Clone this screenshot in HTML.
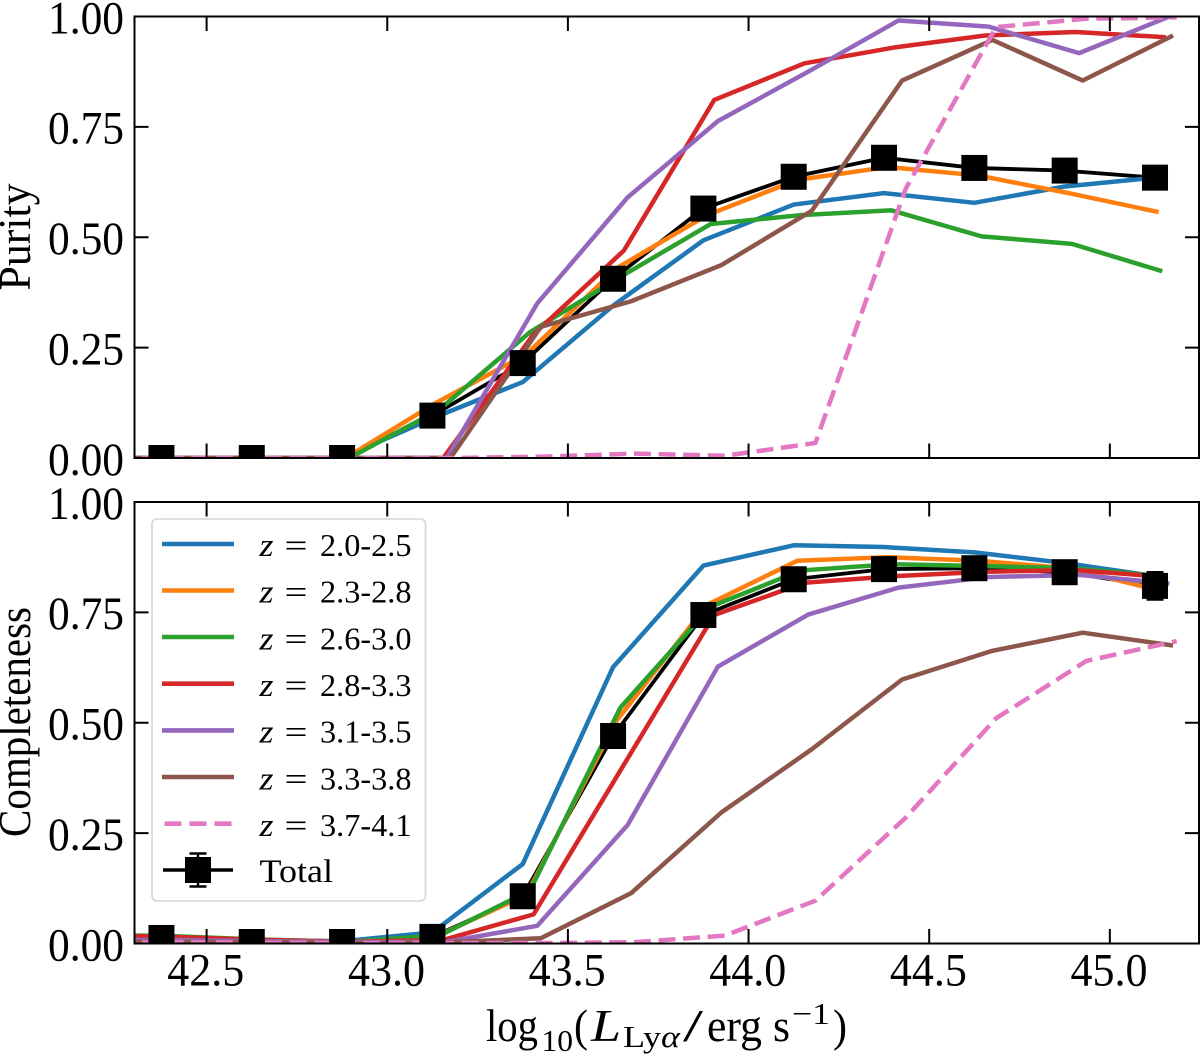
<!DOCTYPE html>
<html lang="en">
<head>
<meta charset="utf-8">
<title>Purity and completeness vs Lya luminosity</title>
<style>
  html, body { margin: 0; padding: 0; background: #fff; }
  svg { display: block; }
  text { font-family: "Liberation Serif", serif; fill: #000; }
</style>
</head>
<body>
<svg id="chart" xmlns="http://www.w3.org/2000/svg" width="1200" height="1056" viewBox="0 0 1200 1056">
  <defs>
    <clipPath id="clip-top"><rect x="134.5" y="16.5" width="1064.5" height="441.5"></rect></clipPath>
    <clipPath id="clip-bottom"><rect x="134.5" y="502" width="1064.5" height="441.5"></rect></clipPath>
  </defs>
  <rect x="0" y="0" width="1200" height="1056" fill="#fff"></rect>
  <g id="panel-top"></g>
  <g id="panel-bottom"></g>

  <text transform="translate(30 237) rotate(-90)" text-anchor="middle" font-size="46" textLength="107" lengthAdjust="spacingAndGlyphs">Purity</text>
  <text transform="translate(30 722) rotate(-90)" text-anchor="middle" font-size="46" textLength="230" lengthAdjust="spacingAndGlyphs">Completeness</text>

  <g font-size="46">
    <text x="486" y="1041" textLength="52" lengthAdjust="spacingAndGlyphs">log</text>
    <text x="541.5" y="1051" font-size="31" textLength="31.5" lengthAdjust="spacingAndGlyphs">10</text>
    <text x="574" y="1041" textLength="14" lengthAdjust="spacingAndGlyphs">(</text>
    <text x="591" y="1041" font-style="italic" textLength="30" lengthAdjust="spacingAndGlyphs">L</text>
    <text x="623" y="1047" font-size="31" textLength="57" lengthAdjust="spacingAndGlyphs">Ly<tspan font-style="italic">α</tspan></text>
    <text x="683" y="1041" textLength="20" lengthAdjust="spacingAndGlyphs">/</text>
    <text x="707" y="1041" textLength="55" lengthAdjust="spacingAndGlyphs">erg</text>
    <text x="773" y="1041" textLength="17" lengthAdjust="spacingAndGlyphs">s</text>
    <text x="792" y="1024" font-size="31" textLength="38" lengthAdjust="spacingAndGlyphs">−1</text>
    <text x="833" y="1041" textLength="14" lengthAdjust="spacingAndGlyphs">)</text>
  </g>

  <g id="legend">
    <rect x="152" y="519" width="273.5" height="382" rx="5" ry="5" fill="#fff" fill-opacity="0.8" stroke="#d6d6d6" stroke-width="1.6"></rect>

    <g>
      <line x1="162" x2="234" y1="544" y2="544" stroke="#1f77b4" stroke-width="4.6"></line>
      <text x="259.5" y="556" font-size="33" font-style="italic" textLength="14" lengthAdjust="spacingAndGlyphs">z</text><text x="284.5" y="556" font-size="32" textLength="23" lengthAdjust="spacingAndGlyphs">=</text><text x="320" y="556" font-size="32" textLength="91.5" lengthAdjust="spacingAndGlyphs">2.0-2.5</text>
    </g>
    <g>
      <line x1="162" x2="234" y1="590.5" y2="590.5" stroke="#ff7f0e" stroke-width="4.6"></line>
      <text x="259.5" y="602.7" font-size="33" font-style="italic" textLength="14" lengthAdjust="spacingAndGlyphs">z</text><text x="284.5" y="602.7" font-size="32" textLength="23" lengthAdjust="spacingAndGlyphs">=</text><text x="320" y="602.7" font-size="32" textLength="91.5" lengthAdjust="spacingAndGlyphs">2.3-2.8</text>
    </g>
    <g>
      <line x1="162" x2="234" y1="637" y2="637" stroke="#2ca02c" stroke-width="4.6"></line>
      <text x="259.5" y="649.4" font-size="33" font-style="italic" textLength="14" lengthAdjust="spacingAndGlyphs">z</text><text x="284.5" y="649.4" font-size="32" textLength="23" lengthAdjust="spacingAndGlyphs">=</text><text x="320" y="649.4" font-size="32" textLength="91.5" lengthAdjust="spacingAndGlyphs">2.6-3.0</text>
    </g>
    <g>
      <line x1="162" x2="234" y1="683.7" y2="683.7" stroke="#d62728" stroke-width="4.6"></line>
      <text x="259.5" y="696" font-size="33" font-style="italic" textLength="14" lengthAdjust="spacingAndGlyphs">z</text><text x="284.5" y="696" font-size="32" textLength="23" lengthAdjust="spacingAndGlyphs">=</text><text x="320" y="696" font-size="32" textLength="91.5" lengthAdjust="spacingAndGlyphs">2.8-3.3</text>
    </g>
    <g>
      <line x1="162" x2="234" y1="730.4" y2="730.4" stroke="#9467bd" stroke-width="4.6"></line>
      <text x="259.5" y="742.6" font-size="33" font-style="italic" textLength="14" lengthAdjust="spacingAndGlyphs">z</text><text x="284.5" y="742.6" font-size="32" textLength="23" lengthAdjust="spacingAndGlyphs">=</text><text x="320" y="742.6" font-size="32" textLength="91.5" lengthAdjust="spacingAndGlyphs">3.1-3.5</text>
    </g>
    <g>
      <line x1="162" x2="234" y1="777" y2="777" stroke="#8c564b" stroke-width="4.6"></line>
      <text x="259.5" y="789.3" font-size="33" font-style="italic" textLength="14" lengthAdjust="spacingAndGlyphs">z</text><text x="284.5" y="789.3" font-size="32" textLength="23" lengthAdjust="spacingAndGlyphs">=</text><text x="320" y="789.3" font-size="32" textLength="91.5" lengthAdjust="spacingAndGlyphs">3.3-3.8</text>
    </g>
    <g>
      <line x1="164.5" x2="234" y1="823.7" y2="823.7" stroke="#e377c2" stroke-width="4.6" stroke-dasharray="17 8"></line>
      <text x="259.5" y="836" font-size="33" font-style="italic" textLength="14" lengthAdjust="spacingAndGlyphs">z</text><text x="284.5" y="836" font-size="32" textLength="23" lengthAdjust="spacingAndGlyphs">=</text><text x="320" y="836" font-size="32" textLength="91.5" lengthAdjust="spacingAndGlyphs">3.7-4.1</text>
    </g>
    <g>
      <line x1="163" x2="233" y1="870" y2="870" stroke="#000" stroke-width="3.6"></line>
      <line x1="198" x2="198" y1="853.5" y2="886.5" stroke="#000" stroke-width="2.4"></line>
      <line x1="189.5" x2="206.5" y1="853.5" y2="853.5" stroke="#000" stroke-width="2.4"></line>
      <line x1="189.5" x2="206.5" y1="886.5" y2="886.5" stroke="#000" stroke-width="2.4"></line>
      <rect x="185" y="857" width="26" height="26" fill="#000"></rect>
      <text x="259.5" y="882" font-size="33" textLength="73.5" lengthAdjust="spacingAndGlyphs">Total</text>
    </g>
  </g>
</svg>

<script>
// ---- Data ----
const binCenters = [42.125, 42.375, 42.625, 42.875, 43.125, 43.375, 43.625, 43.875, 44.125, 44.375, 44.625, 44.875, 45.125];
const seriesLabels = ["2.0-2.5", "2.3-2.8", "2.6-3.0", "2.8-3.3", "3.1-3.5", "3.3-3.8", "3.7-4.1"];
const seriesColors = ["#1f77b4", "#ff7f0e", "#2ca02c", "#d62728", "#9467bd", "#8c564b", "#e377c2"];

const purityBlue   = [0, 0, 0, 0, 0.090, 0.172, 0.345, 0.493, 0.574, 0.600, 0.578, 0.615, 0.635];
const purityOrange = [0, 0, 0, 0, 0.125, 0.235, 0.430, 0.550, 0.630, 0.659, 0.640, 0.600, 0.557];
const purityGreen  = [0, 0, 0, 0, 0.110, 0.285, 0.410, 0.530, 0.550, 0.561, 0.502, 0.485, 0.423];
const purityRed    = [0, 0, 0, 0, 0, 0.280, 0.470, 0.811, 0.894, 0.930, 0.957, 0.965, 0.953];
const purityPurple = [0, 0, 0, 0, 0, 0.350, 0.590, 0.763, 0.875, 0.991, 0.977, 0.917, 1.000];
const purityBrown  = [0, 0, 0, 0, 0, 0.297, 0.355, 0.437, 0.560, 0.855, 0.947, 0.855, 0.957];
const purityPink   = [0, 0, 0, 0, 0, 0.003, 0.010, 0.005, 0.034, 0.610, 0.976, 0.995, 0.998];
const purityTotal  = [0, 0, 0, 0, 0.096, 0.215, 0.406, 0.565, 0.637, 0.680, 0.657, 0.651, 0.635];
const purityTotalErr = [0, 0, 0, 0, 0.01, 0.01, 0.01, 0.01, 0.01, 0.01, 0.015, 0.02, 0.02];

const completenessBlue   = [0.015, 0.013, 0.008, 0.005, 0.025, 0.180, 0.626, 0.856, 0.902, 0.898, 0.886, 0.862, 0.832];
const completenessOrange = [0.015, 0.014, 0.008, 0.004, 0.016, 0.110, 0.505, 0.767, 0.867, 0.875, 0.867, 0.850, 0.800];
const completenessGreen  = [0.020, 0.017, 0.009, 0.004, 0.018, 0.120, 0.534, 0.763, 0.845, 0.859, 0.855, 0.850, 0.832];
const completenessRed    = [0.020, 0.015, 0.008, 0.004, 0.008, 0.066, 0.405, 0.744, 0.817, 0.832, 0.842, 0.846, 0.830];
const completenessPurple = [0.008, 0.008, 0.005, 0.003, 0.004, 0.040, 0.268, 0.627, 0.745, 0.806, 0.830, 0.835, 0.815];
const completenessBrown  = [0.004, 0.004, 0.003, 0.001, 0.003, 0.012, 0.114, 0.297, 0.440, 0.598, 0.663, 0.704, 0.675];
const completenessPink   = [0.002, 0.003, 0.002, 0.001, 0.001, 0.001, 0.003, 0.018, 0.097, 0.285, 0.510, 0.640, 0.685];
const completenessTotal  = [0.013, 0.0125, 0.0034, 0.0034, 0.015, 0.107, 0.470, 0.744, 0.825, 0.848, 0.850, 0.841, 0.810];
const completenessTotalErr = [0.002, 0.002, 0.002, 0.002, 0.005, 0.01, 0.01, 0.01, 0.01, 0.01, 0.015, 0.02, 0.031];

const xTickValues = [42.5, 43.0, 43.5, 44.0, 44.5, 45.0];
const xTickLabels = ["42.5", "43.0", "43.5", "44.0", "44.5", "45.0"];
const yTickValues = [0, 0.25, 0.5, 0.75, 1];
const yTickLabels = ["0.00", "0.25", "0.50", "0.75", "1.00"];

const seriesStep = 0.01;
const puritySeries = [purityBlue, purityOrange, purityGreen, purityRed, purityPurple, purityBrown, purityPink];
const completenessSeries = [completenessBlue, completenessOrange, completenessGreen, completenessRed, completenessPurple, completenessBrown, completenessPink];

// ---- Axis functions ----
const SVG_NS = "http://www.w3.org/2000/svg";
const plotLeft = 134.5;
const plotRight = 1199;
function xScale(v) { return 206.6 + (v - 42.5) * 361.3; }
function yScaleTop(v) { return 458 - v * 441.5; }
function yScaleBottom(v) { return 943.5 - v * 441.5; }

function make(parent, tag, attrs) {
  const el = document.createElementNS(SVG_NS, tag);
  for (const k in attrs) el.setAttribute(k, attrs[k]);
  parent.appendChild(el);
  return el;
}

function drawPanel(panel, clipId, yScale, key, seriesList, total, totalErr, showXLabels) {
  const top = yScale(1), bottom = yScale(0);
  const plot = make(panel, "g", { "clip-path": "url(#" + clipId + ")" });
  
  

  // total line sits below the coloured series, its markers above them
  const totalLine = make(plot, "polyline", {
    points: binCenters.map((c, i) => xScale(c) + "," + yScale(total[i])).join(" "),
    fill: "none", stroke: "#000", "stroke-width": 3.8, "stroke-linejoin": "round"
  });
  
  

  seriesList.forEach((values, s) => {
    const dashed = s === 6;
    const line = make(plot, "polyline", {
      points: binCenters.map((c, i) => xScale(c + s * seriesStep) + "," + yScale(values[i])).join(" "),
      fill: "none", stroke: seriesColors[s], "stroke-width": 4.5,
      "stroke-linejoin": "round", "stroke-linecap": "butt"
    });
    if (dashed) line.setAttribute("stroke-dasharray", "17 7.6");
    
    
  });

  binCenters.forEach((c, i) => {
    const x = xScale(c), y = yScale(total[i]);
    const eLo = yScale(total[i] - totalErr[i]), eHi = yScale(total[i] + totalErr[i]);
    const err = make(plot, "path", {
      d: "M" + x + " " + eLo + "V" + eHi + "M" + (x - 8.5) + " " + eHi + "H" + (x + 8.5) + "M" + (x - 8.5) + " " + eLo + "H" + (x + 8.5),
      stroke: "#000", "stroke-width": 2.4, fill: "none"
    });
    
    
    const marker = make(plot, "rect", { x: x - 13, y: y - 13, width: 26, height: 26, fill: "#000" });
    
    
  });

  const axes = make(panel, "g", { stroke: "#000", "stroke-width": 2 });
  
  

  xTickValues.forEach((v, i) => {
    const x = xScale(v);
    const tickTop = make(axes, "line", { x1: x, x2: x, y1: top, y2: top + 14.5 });
    
    
    const tickBottom = make(axes, "line", { x1: x, x2: x, y1: bottom, y2: bottom - 14.5 });
    
    
    if (showXLabels) {
      const label = make(panel, "text", { x: x - 0.8, y: bottom + 42, "text-anchor": "middle", "font-size": 46.5, textLength: 77, lengthAdjust: "spacingAndGlyphs" });
      label.textContent = xTickLabels[i];
      
      
    }
  });

  yTickValues.forEach((v, i) => {
    const y = yScale(v);
    const tickLeft = make(axes, "line", { x1: plotLeft, x2: plotLeft + 14, y1: y, y2: y });
    
    
    const tickRight = make(axes, "line", { x1: plotRight, x2: plotRight - 14, y1: y, y2: y });
    
    
    const label = make(panel, "text", { x: 124, y: y + 16.8, "text-anchor": "end", "font-size": 46.5, textLength: 76, lengthAdjust: "spacingAndGlyphs" });
    label.textContent = yTickLabels[i];
    
    
  });

  const frame = make(axes, "rect", { x: plotLeft, y: top, width: plotRight - plotLeft, height: bottom - top, fill: "none" });
  
  
}

drawPanel(document.getElementById("panel-top"), "clip-top", yScaleTop, "purity", puritySeries, purityTotal, purityTotalErr, false);
drawPanel(document.getElementById("panel-bottom"), "clip-bottom", yScaleBottom, "completeness", completenessSeries, completenessTotal, completenessTotalErr, true);
</script>
</body>
</html>
